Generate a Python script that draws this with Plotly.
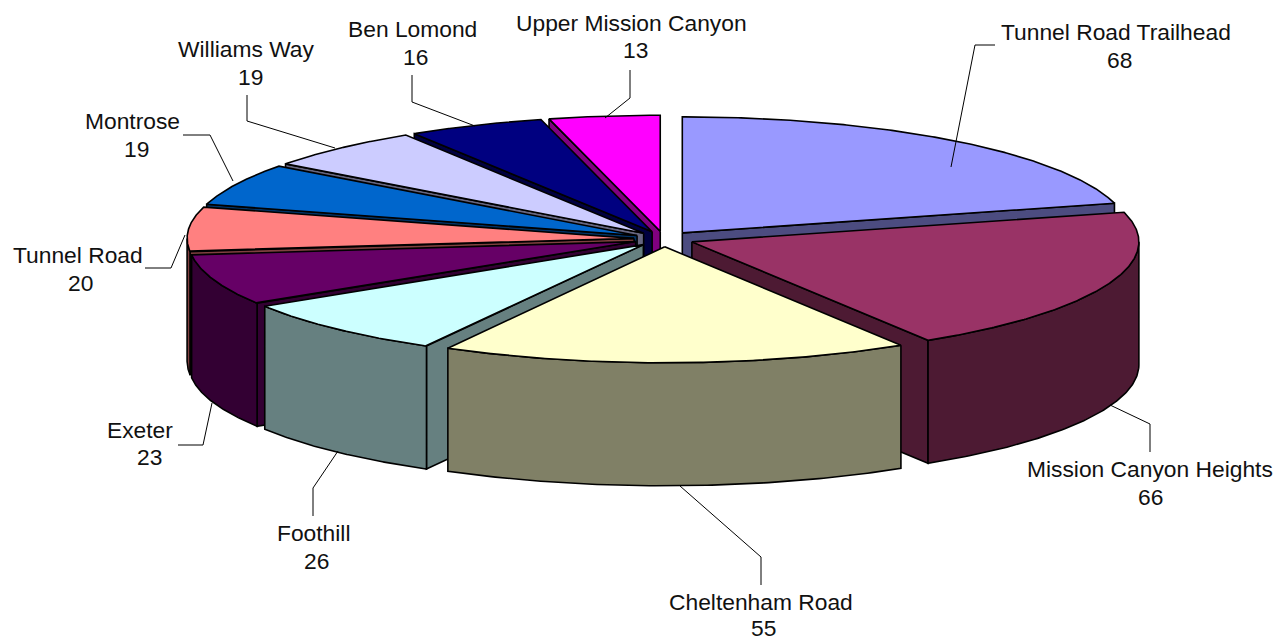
import numpy as np
import plotly.graph_objects as go

categories = ["Tunnel Road Trailhead", "Mission Canyon Heights", "Cheltenham Road", "Foothill", "Exeter",
              "Tunnel Road", "Montrose", "Williams Way", "Ben Lomond", "Upper Mission Canyon"]
values = [68, 66, 55, 26, 23, 20, 19, 19, 16, 13]
colors = ["#9999FF", "#993366", "#FFFFCC", "#CCFFFF", "#660066", "#FF8080", "#0066CC", "#CCCCFF", "#000080", "#FF00FF"]
shades = ["#4C4C80", "#4D1A33", "#808066", "#668080", "#330033", "#804040", "#003366", "#666680", "#000040", "#800080"]

# projection of the pie
CX, CY, RX, RY, DEPTH, EXPLODE, WARP = 664, 239, 447, 116, 123, 30, np.radians(-0.35)

# label layout: (name x, name y, value x, value y), leader polyline
label_pos = [(1116, 32, 1119, 60), (1150, 469, 1150, 497), (761, 602, 763, 628), (314, 533, 316, 561), (140, 430, 149, 457),
             (78, 255, 80, 283), (132, 121, 136, 149), (246, 49, 250, 77), (412, 29, 415, 57), (631, 23, 635, 50)]
leaders = [[(951, 167), (975, 45), (995, 45)],
           [(1110, 405), (1150, 424), (1150, 452)],
           [(680, 486), (761, 557), (761, 585)],
           [(338, 451), (313, 488), (313, 516)],
           [(212, 403), (203, 445), (178, 445)],
           [(185, 235), (171, 268), (145, 268)],
           [(233, 181), (210, 135), (183, 135)],
           [(335, 148), (247, 121), (247, 95)],
           [(475, 126), (412, 102), (412, 75)],
           [(605, 118), (630, 98), (630, 70)]]

fig = go.Figure()


def poly(xs, ys, color):
    fig.add_trace(go.Scatter(x=list(xs) + [xs[0]], y=list(ys) + [ys[0]], mode="lines", fill="toself",
                             fillcolor=color, line=dict(color="black", width=1.6), hoverinfo="skip", showlegend=False))


total = sum(values)
edges = np.cumsum([0] + values) / total * 2 * np.pi
edges = edges + WARP * (1 - np.cos(edges)) / 2
k = RY / RX
order = sorted(range(len(values)), key=lambda i: -np.cos((edges[i] + edges[i + 1]) / 2))
for i in order:
    t0, t1 = edges[i], edges[i + 1]
    mid = (t0 + t1) / 2
    ax = CX + EXPLODE * np.sin(mid)
    ay = CY - EXPLODE * k * np.cos(mid)
    px = lambda t: ax + RX * np.sin(t)
    py = lambda t: ay - RY * np.cos(t)
    if np.sin(t0) < 0:
        poly([ax, px(t0), px(t0), ax], [ay, py(t0), py(t0) + DEPTH, ay + DEPTH], shades[i])
    if np.sin(t1) > 0:
        poly([ax, px(t1), px(t1), ax], [ay, py(t1), py(t1) + DEPTH, ay + DEPTH], shades[i])
    lo, hi = max(t0, np.pi / 2), min(t1, 3 * np.pi / 2)
    if hi > lo:
        a = np.linspace(lo, hi, 100)
        poly(np.r_[px(a), px(a)[::-1]], np.r_[py(a), py(a)[::-1] + DEPTH], shades[i])
    a = np.linspace(t0, t1, 200)
    poly(np.r_[ax, px(a)], np.r_[ay, py(a)], colors[i])

for name, val, pos, lead in zip(categories, values, label_pos, leaders):
    fig.add_trace(go.Scatter(x=[p[0] for p in lead], y=[p[1] for p in lead], mode="lines",
                             line=dict(color="black", width=1), hoverinfo="skip", showlegend=False))
    for txt, x, y in ((name, pos[0], pos[1]), (str(val), pos[2], pos[3])):
        fig.add_annotation(x=x, y=y, text=txt, showarrow=False, xanchor="center", yanchor="middle",
                           font=dict(family="Liberation Sans", size=22.8, color="#111111"))

# The page has an 8 px body margin, so the plot area starts at (8, 8)
fig.update_layout(width=1276, height=632, margin=dict(l=0, r=0, t=0, b=0), paper_bgcolor="white", plot_bgcolor="white",
                  xaxis=dict(range=[8, 1284], visible=False, fixedrange=True),
                  yaxis=dict(range=[640, 8], visible=False, fixedrange=True), showlegend=False)
fig.write_html("out.html", config={"displayModeBar": False})
